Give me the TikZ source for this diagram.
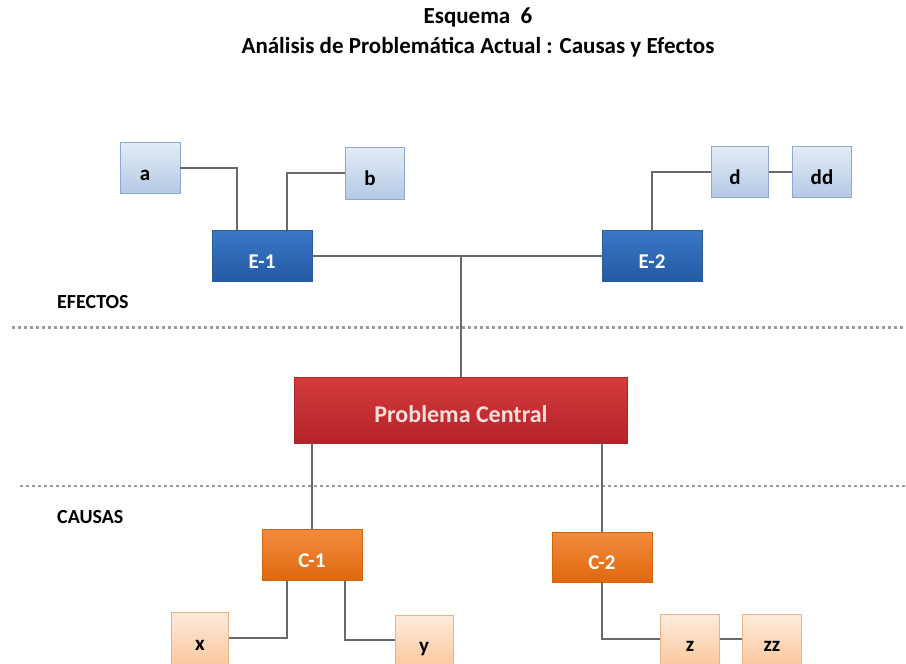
\documentclass[tikz,border=0pt]{standalone}
\usepackage{fontspec}
\setmainfont{Carlito}
\definecolor{lbtop}{HTML}{E3ECF7}
\definecolor{lbbot}{HTML}{B4C9E4}
\definecolor{lbdraw}{HTML}{8EA9CF}
\definecolor{dbtop}{HTML}{3A78C6}
\definecolor{dbbot}{HTML}{2459A3}
\definecolor{dbdraw}{HTML}{2A5C9C}
\definecolor{rtop}{HTML}{D43B3B}
\definecolor{rbot}{HTML}{B5232A}
\definecolor{rdraw}{HTML}{A8262B}
\definecolor{otop}{HTML}{F28C3E}
\definecolor{obot}{HTML}{E0680E}
\definecolor{odraw}{HTML}{D0650F}
\definecolor{lotop}{HTML}{FDEBDC}
\definecolor{lobot}{HTML}{FBC9A0}
\definecolor{lodraw}{HTML}{E8B48A}
\definecolor{conn}{HTML}{6A6A6A}
\definecolor{dotc}{HTML}{9A9A9A}
\definecolor{pctext}{HTML}{F6DEDA}
\tikzset{
  box/.style={rectangle, inner sep=0pt, font=\bfseries\fontsize{21}{24}\selectfont,
    text height=24pt, text depth=0pt, line width=0.8pt},
  lightblue/.style={box, top color=lbtop, bottom color=lbbot, draw=lbdraw, text=black},
  darkblue/.style={box, top color=dbtop, bottom color=dbbot, draw=dbdraw, text=white},
  redbox/.style={box, top color=rtop, bottom color=rbot, draw=rdraw, text=pctext,
    font=\bfseries\fontsize{24}{28}\selectfont, text height=25.5pt},
  orangebox/.style={box, top color=otop, bottom color=obot, draw=odraw, text=white},
  lightorange/.style={box, top color=lotop, bottom color=lobot, draw=lodraw, text=black},
  link/.style={draw=conn, line width=1.5pt},
  sep/.style={draw=dotc, line width=2.6pt, dash pattern=on 3pt off 3pt},
  sectlabel/.style={font=\bfseries\fontsize{20}{24}\selectfont, anchor=west, inner sep=0pt},
  titletext/.style={font=\bfseries\fontsize{23}{27}\selectfont, inner sep=0pt}
}
\begin{document}
\begin{tikzpicture}[x=1pt,y=-1pt]
\useasboundingbox (0,0) rectangle (906,664);
% title
\node[titletext] (t1) at (478,17) {Esquema\ \ 6};
\node[titletext] (t2) at (478,47) {Análisis de Problemática Actual : Causas y Efectos};
% separators
\coordinate (s1a) at (12,327.5);
\coordinate (s1b) at (906,327.5);
\coordinate (s2a) at (20,486);
\coordinate (s2b) at (906,486);
\draw[sep] (s1a) -- (s1b);
\draw[sep] (s2a) -- (s2b);
\node[sectlabel] (efe) at (57,302) {EFECTOS};
\node[sectlabel] (cau) at (57,517) {CAUSAS};
% effects
\node[lightblue, minimum width=60pt, minimum height=51pt] (a) at (150,168) {\kern-10pt a};
\node[lightblue, minimum width=59pt, minimum height=52pt] (b) at (375,173) {\kern-10pt b};
\node[darkblue, minimum width=100pt, minimum height=51pt] (E1) at (262,256) {E-1};
\node[darkblue, minimum width=100pt, minimum height=51pt] (E2) at (652,256) {E-2};
\node[lightblue, minimum width=57pt, minimum height=51pt] (d) at (740,172) {\kern-10pt d};
\node[lightblue, minimum width=59pt, minimum height=51pt] (dd) at (822,172) {dd};
% central
\node[redbox, minimum width=333pt, minimum height=66pt] (PC) at (461,410) {Problema Central};
% causes
\node[orangebox, minimum width=100pt, minimum height=51pt] (C1) at (312,555) {C-1};
\node[orangebox, minimum width=100pt, minimum height=50pt] (C2) at (602,557) {C-2};
\node[lightorange, minimum width=57pt, minimum height=52pt] (x) at (200,638) {x};
\node[lightorange, minimum width=58pt, minimum height=50pt] (y) at (424,640) {y};
\node[lightorange, minimum width=59pt, minimum height=50pt] (z) at (690,639) {z};
\node[lightorange, minimum width=59pt, minimum height=50pt] (zz) at (772,639) {zz};
% connectors
\draw[link] (a.east) -| ([xshift=-25pt]E1.north);
\draw[link] (b.west) -| ([xshift=25pt]E1.north);
\draw[link] (E1.east) -- (E2.west);
\draw[link] (PC.north) -- (PC.north |- E1.east);
\draw[link] (E2.north) |- (d.west);
\draw[link] (d.east) -- (dd.west);
\draw[link] (C1.north) -- (C1.north |- PC.south);
\draw[link] (C2.north) -- (C2.north |- PC.south);
\draw[link] ([xshift=-25pt]C1.south) |- (x.east);
\draw[link] ([xshift=33pt]C1.south) |- (y.west);
\draw[link] (C2.south) |- (z.west);
\draw[link] (z.east) -- (zz.west);
\end{tikzpicture}
\end{document}
